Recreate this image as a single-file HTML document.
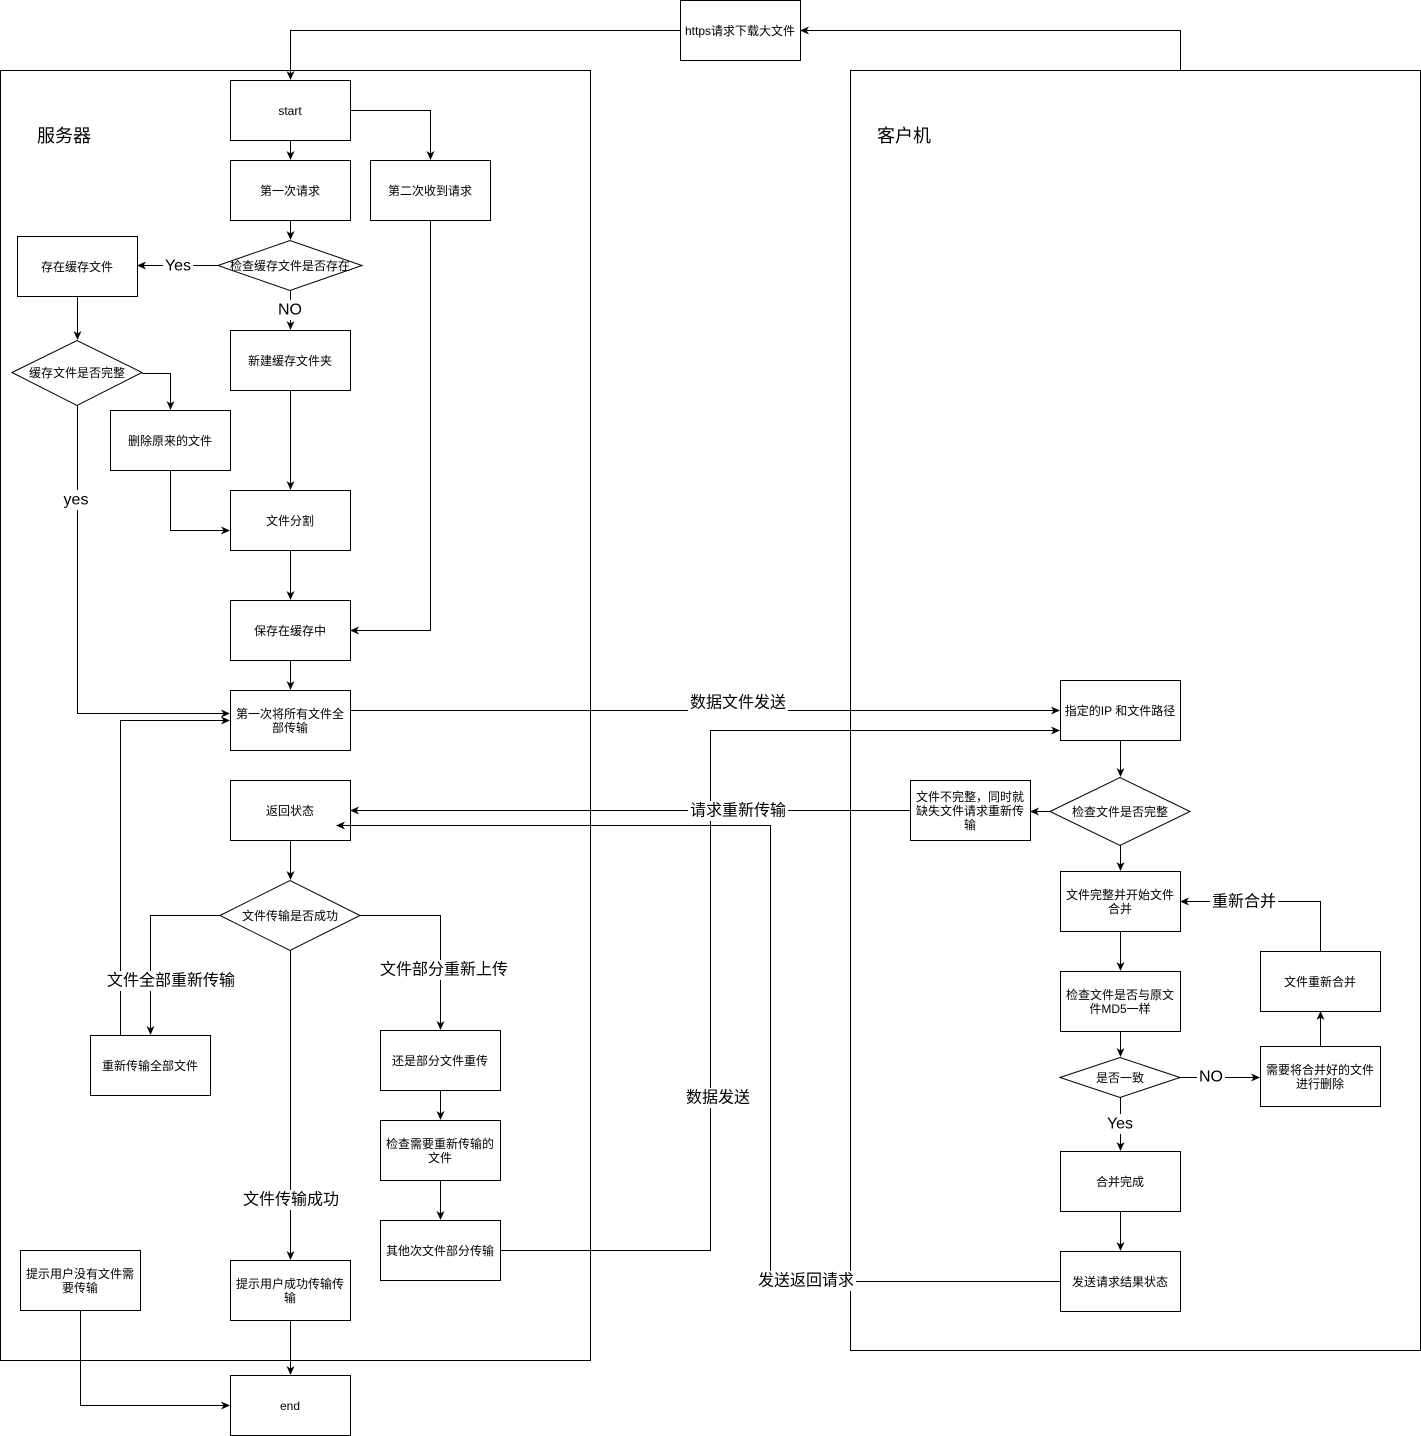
<!DOCTYPE html>
<html><head><meta charset="utf-8"><style>
html,body{margin:0;padding:0;background:#fff}
svg{display:block}
text{font-family:"Liberation Sans","Noto Sans CJK SC",sans-serif;fill:#000}
.b{font-size:12px}
.l{font-size:16px}
</style></head><body>
<svg width="1421" height="1436" viewBox="0 0 1421 1436" xmlns="http://www.w3.org/2000/svg">
<defs><marker id="a" markerWidth="10" markerHeight="10" refX="8" refY="5" orient="auto" markerUnits="userSpaceOnUse"><path d="M0,1 L9,5 L0,9 L2.5,5 Z" fill="#000"/></marker></defs>
<g fill="#fff" stroke="#000" stroke-width="1">
<rect x="0.5" y="70.5" width="590" height="1290"/>
<rect x="850.5" y="70.5" width="570" height="1280"/>
<rect x="680.5" y="0.5" width="120" height="60"/>
<rect x="230.5" y="80.5" width="120" height="60"/>
<rect x="230.5" y="160.5" width="120" height="60"/>
<rect x="370.5" y="160.5" width="120" height="60"/>
<polygon points="218,265.5 290,240.5 362,265.5 290,290.5"/>
<rect x="17.5" y="236.5" width="120" height="60"/>
<polygon points="12,372.5 77,340.5 142,372.5 77,405.5"/>
<rect x="110.5" y="410.5" width="120" height="60"/>
<rect x="230.5" y="330.5" width="120" height="60"/>
<rect x="230.5" y="490.5" width="120" height="60"/>
<rect x="230.5" y="600.5" width="120" height="60"/>
<rect x="230.5" y="690.5" width="120" height="60"/>
<rect x="230.5" y="780.5" width="120" height="60"/>
<polygon points="220,915.5 290,880.5 360,915.5 290,950.5"/>
<rect x="90.5" y="1035.5" width="120" height="60"/>
<rect x="380.5" y="1030.5" width="120" height="60"/>
<rect x="380.5" y="1120.5" width="120" height="60"/>
<rect x="380.5" y="1220.5" width="120" height="60"/>
<rect x="230.5" y="1260.5" width="120" height="60"/>
<rect x="20.5" y="1250.5" width="120" height="60"/>
<rect x="230.5" y="1375.5" width="120" height="60"/>
<rect x="1060.5" y="680.5" width="120" height="60"/>
<polygon points="1050,811.5 1120,777.5 1190,811.5 1120,845.5"/>
<rect x="910.5" y="780.5" width="120" height="60"/>
<rect x="1060.5" y="871.5" width="120" height="60"/>
<rect x="1060.5" y="971.5" width="120" height="60"/>
<polygon points="1060,1077.5 1120,1057.5 1180,1077.5 1120,1097.5"/>
<rect x="1260.5" y="1046.5" width="120" height="60"/>
<rect x="1260.5" y="951.5" width="120" height="60"/>
<rect x="1060.5" y="1151.5" width="120" height="60"/>
<rect x="1060.5" y="1251.5" width="120" height="60"/>
</g>
<g fill="none" stroke="#000" stroke-width="1" marker-end="url(#a)">
<polyline points="1180.5,70 1180.5,30.5 801,30.5"/>
<polyline points="680,30.5 290.5,30.5 290.5,79"/>
<polyline points="290.5,140 290.5,159"/>
<polyline points="350,110.5 430.5,110.5 430.5,159"/>
<polyline points="290.5,220 290.5,239"/>
<polyline points="218,265.5 138,265.5"/>
<polyline points="290.5,290 290.5,329"/>
<polyline points="77.5,296 77.5,339"/>
<polyline points="142,373.5 170.5,373.5 170.5,409"/>
<polyline points="170.5,470 170.5,530.5 229,530.5"/>
<polyline points="290.5,390 290.5,489"/>
<polyline points="290.5,550 290.5,599"/>
<polyline points="430.5,220 430.5,630.5 351,630.5"/>
<polyline points="290.5,660 290.5,689"/>
<polyline points="77.5,405 77.5,713.5 229,713.5"/>
<polyline points="350,710.5 1059,710.5"/>
<polyline points="500,1250.5 710.5,1250.5 710.5,730.5 1059,730.5"/>
<polyline points="1120.5,740 1120.5,776"/>
<polyline points="1050,811.5 1031,811.5"/>
<polyline points="910,810.5 351,810.5"/>
<polyline points="1060,1281.5 770.5,1281.5 770.5,825.5 337,825.5"/>
<polyline points="1120.5,845 1120.5,870"/>
<polyline points="1120.5,931 1120.5,970"/>
<polyline points="1120.5,1031 1120.5,1056"/>
<polyline points="1180,1077.5 1259,1077.5"/>
<polyline points="1320.5,1046 1320.5,1012"/>
<polyline points="1320.5,951 1320.5,901.5 1181,901.5"/>
<polyline points="1120.5,1097 1120.5,1150"/>
<polyline points="1120.5,1211 1120.5,1250"/>
<polyline points="290.5,840 290.5,879"/>
<polyline points="220,915.5 150.5,915.5 150.5,1034"/>
<polyline points="120.5,1035 120.5,720.5 229,720.5"/>
<polyline points="360,915.5 440.5,915.5 440.5,1029"/>
<polyline points="290.5,950 290.5,1259"/>
<polyline points="440.5,1090 440.5,1119"/>
<polyline points="440.5,1180 440.5,1219"/>
<polyline points="290.5,1320 290.5,1374"/>
<polyline points="80.5,1310 80.5,1405.5 229,1405.5"/>
</g>
<g text-anchor="middle" dominant-baseline="central">
<g fill="#fff" stroke="none">
<rect x="163" y="256" width="30" height="20"/>
<rect x="276" y="300" width="28" height="20"/>
<rect x="60" y="490" width="32" height="20"/>
<rect x="688" y="693" width="100" height="20"/>
<rect x="688" y="801" width="100" height="20"/>
<rect x="684" y="1088" width="68" height="20"/>
<rect x="756" y="1271" width="100" height="20"/>
<rect x="1197" y="1067" width="28" height="20"/>
<rect x="1210" y="892" width="68" height="20"/>
<rect x="1104" y="1114" width="32" height="20"/>
<rect x="106" y="971" width="130" height="20"/>
<rect x="379" y="960" width="130" height="20"/>
<rect x="242" y="1190" width="98" height="20"/>
</g>
<text class="b" x="740" y="31">https请求下载大文件</text>
<text class="b" x="290" y="111">start</text>
<text class="b" x="290" y="191">第一次请求</text>
<text class="b" x="430" y="191">第二次收到请求</text>
<text class="b" x="290" y="266">检查缓存文件是否存在</text>
<text class="b" x="77" y="267">存在缓存文件</text>
<text class="b" x="77" y="373">缓存文件是否完整</text>
<text class="b" x="170" y="441">删除原来的文件</text>
<text class="b" x="290" y="361">新建缓存文件夹</text>
<text class="b" x="290" y="521">文件分割</text>
<text class="b" x="290" y="631">保存在缓存中</text>
<text class="b" x="290" y="714">第一次将所有文件全</text>
<text class="b" x="290" y="728">部传输</text>
<text class="b" x="290" y="811">返回状态</text>
<text class="b" x="290" y="916">文件传输是否成功</text>
<text class="b" x="150" y="1066">重新传输全部文件</text>
<text class="b" x="440" y="1061">还是部分文件重传</text>
<text class="b" x="440" y="1144">检查需要重新传输的</text>
<text class="b" x="440" y="1158">文件</text>
<text class="b" x="440" y="1251">其他次文件部分传输</text>
<text class="b" x="290" y="1284">提示用户成功传输传</text>
<text class="b" x="290" y="1298">输</text>
<text class="b" x="80" y="1274">提示用户没有文件需</text>
<text class="b" x="80" y="1288">要传输</text>
<text class="b" x="290" y="1406">end</text>
<text class="b" x="1120" y="711">指定的IP 和文件路径</text>
<text class="b" x="1120" y="812">检查文件是否完整</text>
<text class="b" x="970" y="797">文件不完整，同时就</text>
<text class="b" x="970" y="811">缺失文件请求重新传</text>
<text class="b" x="970" y="825">输</text>
<text class="b" x="1120" y="895">文件完整并开始文件</text>
<text class="b" x="1120" y="909">合并</text>
<text class="b" x="1120" y="995">检查文件是否与原文</text>
<text class="b" x="1120" y="1009">件MD5一样</text>
<text class="b" x="1120" y="1078">是否一致</text>
<text class="b" x="1320" y="1070">需要将合并好的文件</text>
<text class="b" x="1320" y="1084">进行删除</text>
<text class="b" x="1320" y="982">文件重新合并</text>
<text class="b" x="1120" y="1182">合并完成</text>
<text class="b" x="1120" y="1282">发送请求结果状态</text>
<text class="l" x="178" y="266">Yes</text>
<text class="l" x="290" y="310">NO</text>
<text class="l" x="76" y="500">yes</text>
<text class="l" x="738" y="703">数据文件发送</text>
<text class="l" x="738" y="811">请求重新传输</text>
<text class="l" x="718" y="1098">数据发送</text>
<text class="l" x="806" y="1281">发送返回请求</text>
<text class="l" x="1211" y="1077">NO</text>
<text class="l" x="1244" y="902">重新合并</text>
<text class="l" x="1120" y="1124">Yes</text>
<text class="l" x="171" y="981">文件全部重新传输</text>
<text class="l" x="444" y="970">文件部分重新上传</text>
<text class="l" x="291" y="1200">文件传输成功</text>
</g>
<text x="37" y="142" style="font-size:18px">服务器</text>
<text x="877" y="142" style="font-size:18px">客户机</text>
</svg>
</body></html>
